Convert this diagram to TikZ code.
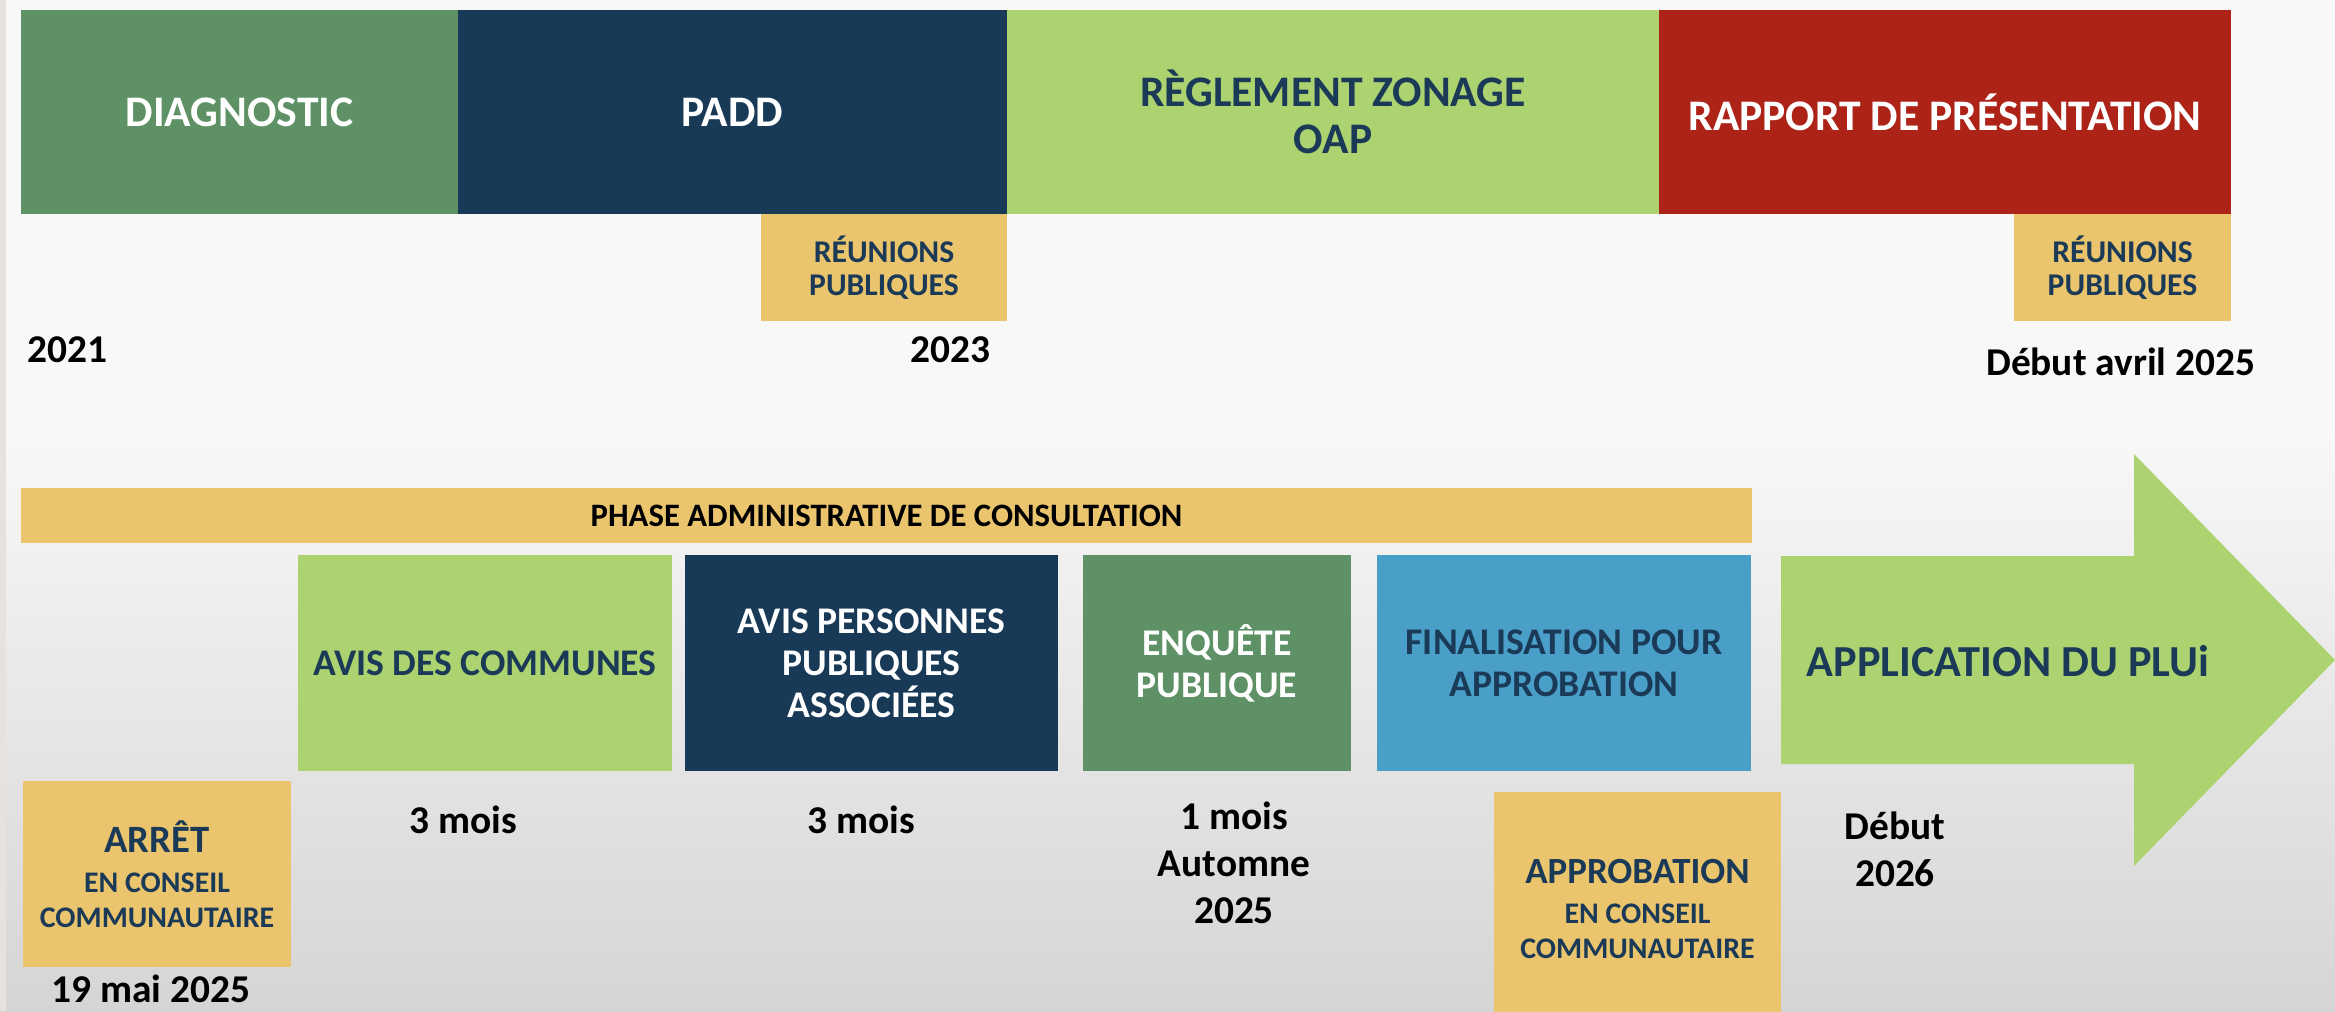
\documentclass[tikz,border=0pt]{standalone}
\usepackage{fontspec}
\setmainfont{Carlito}
\usetikzlibrary{positioning}

\definecolor{sage}{HTML}{5E9266}
\definecolor{navy}{HTML}{183A57}
\definecolor{lime}{HTML}{ADD370}
\definecolor{brick}{HTML}{AD2318}
\definecolor{sand}{HTML}{EAC56D}
\definecolor{sky}{HTML}{4A9FC8}
\definecolor{ink}{HTML}{1B3A57}
\definecolor{bgtop}{HTML}{F8F8F8}
\definecolor{bgbot}{HTML}{D5D5D5}
\definecolor{edge}{HTML}{E6E3DE}

\tikzset{
  bx/.style 2 args={minimum width=#1cm, minimum height=#2cm, inner sep=0pt, align=center},
  big/.style={font=\bfseries\fontsize{12.4}{13.4}\selectfont},
  mid/.style={font=\bfseries\fontsize{10.7}{12}\selectfont},
  small/.style={font=\bfseries\fontsize{9}{9.4}\selectfont},
  date/.style={inner sep=0pt, align=center, text=black, font=\bfseries\fontsize{11.2}{13.4}\selectfont},
}

\begin{document}
\begin{tikzpicture}[x=0.01cm, y=-0.01cm]
    \useasboundingbox (0,0) rectangle (2335,1011);
    \clip (0,0) rectangle (2335,1011);
    % background
    \fill[bgtop] (0,0) rectangle (2335,1011);
    \shade[top color=bgtop, bottom color=bgbot] (0,430) rectangle (2335,1011);
    \fill[edge] (0,0) rectangle (6,1011);

    % elaboration
    \node[bx={4.37}{2.04}, fill=sage, big, text=white] (diag) at (239.5,112) {DIAGNOSTIC};
    \node[bx={5.49}{2.04}, fill=navy, big, text=white] (padd) at (732.5,112) {PADD};
    \node[bx={6.52}{2.04}, fill=lime, big, text=ink] (regl) at (1333,112) {RÈGLEMENT ZONAGE\\OAP};
    \node[bx={5.72}{2.04}, fill=brick, big, text=white] (rapp) at (1945,112) {RAPPORT DE PRÉSENTATION};
    \node[bx={2.46}{1.07}, fill=sand, small, text=ink] (reun1) at (884,267.5) {RÉUNIONS\\PUBLIQUES};
    \node[bx={2.17}{1.07}, fill=sand, small, text=ink] (reun2) at (2122.5,267.5) {RÉUNIONS\\PUBLIQUES};
    \node[date, anchor=west] (y2021) at (27,350) {2021};
    \node[date, anchor=east] (y2023) at (991,350) {2023};
    \node[date, anchor=east] (avril) at (2256,362) {Début avril 2025};

    % consultation
    \node[bx={17.29}{0.55}, fill=sand, text=black, font=\bfseries\fontsize{9.3}{10}\selectfont] (phase) at (886.5,515.5) {PHASE ADMINISTRATIVE DE CONSULTATION};
    \node[bx={3.74}{2.16}, fill=lime, mid, text=ink] (comm) at (485,663) {AVIS DES COMMUNES};
    \node[bx={3.73}{2.16}, fill=navy, mid, text=white] (ppa) at (871.5,663) {AVIS PERSONNES\\PUBLIQUES\\ASSOCIÉES};
    \node[bx={2.68}{2.16}, fill=sage, mid, text=white] (enq) at (1217,663) {ENQUÊTE\\PUBLIQUE};
    \node[bx={3.74}{2.16}, fill=sky, mid, text=ink] (fin) at (1564,663) {FINALISATION POUR\\APPROBATION};
    \fill[lime] (1781,556) -- (2134,556) -- (2134,454) -- (2335,660) -- (2134,866) -- (2134,764) -- (1781,764) -- cycle;
    \node[inner sep=0pt, text=ink, font=\bfseries\fontsize{12.6}{13}\selectfont] (plui) at (2008,661) {APPLICATION DU PLUi};

    \node[bx={2.68}{1.86}, fill=sand, text=ink, font=\bfseries\fontsize{8.5}{10}\selectfont] (arret) at (157,874)
        {{\fontsize{11}{11}\selectfont ARRÊT}\\[1.5pt] EN CONSEIL\\ COMMUNAUTAIRE};
    \node[date] (mai) at (151,989) {19 mai 2025};
    \node[date] (dur1) at (463,820) {3 mois};
    \node[date] (dur2) at (861,820) {3 mois};
    \node[date] (dur3) at (1234,863) {1 mois\\Automne\\2025};
    \node[bx={2.87}{2.34}, fill=sand, text=ink, font=\bfseries\fontsize{8.5}{10}\selectfont] (appro) at (1637.5,909)
        {{\fontsize{10.5}{10.5}\selectfont APPROBATION}\\[1.5pt] EN CONSEIL\\ COMMUNAUTAIRE};
    \node[date] (debut) at (1895,849) {Début\\2026};
\end{tikzpicture}
\end{document}
